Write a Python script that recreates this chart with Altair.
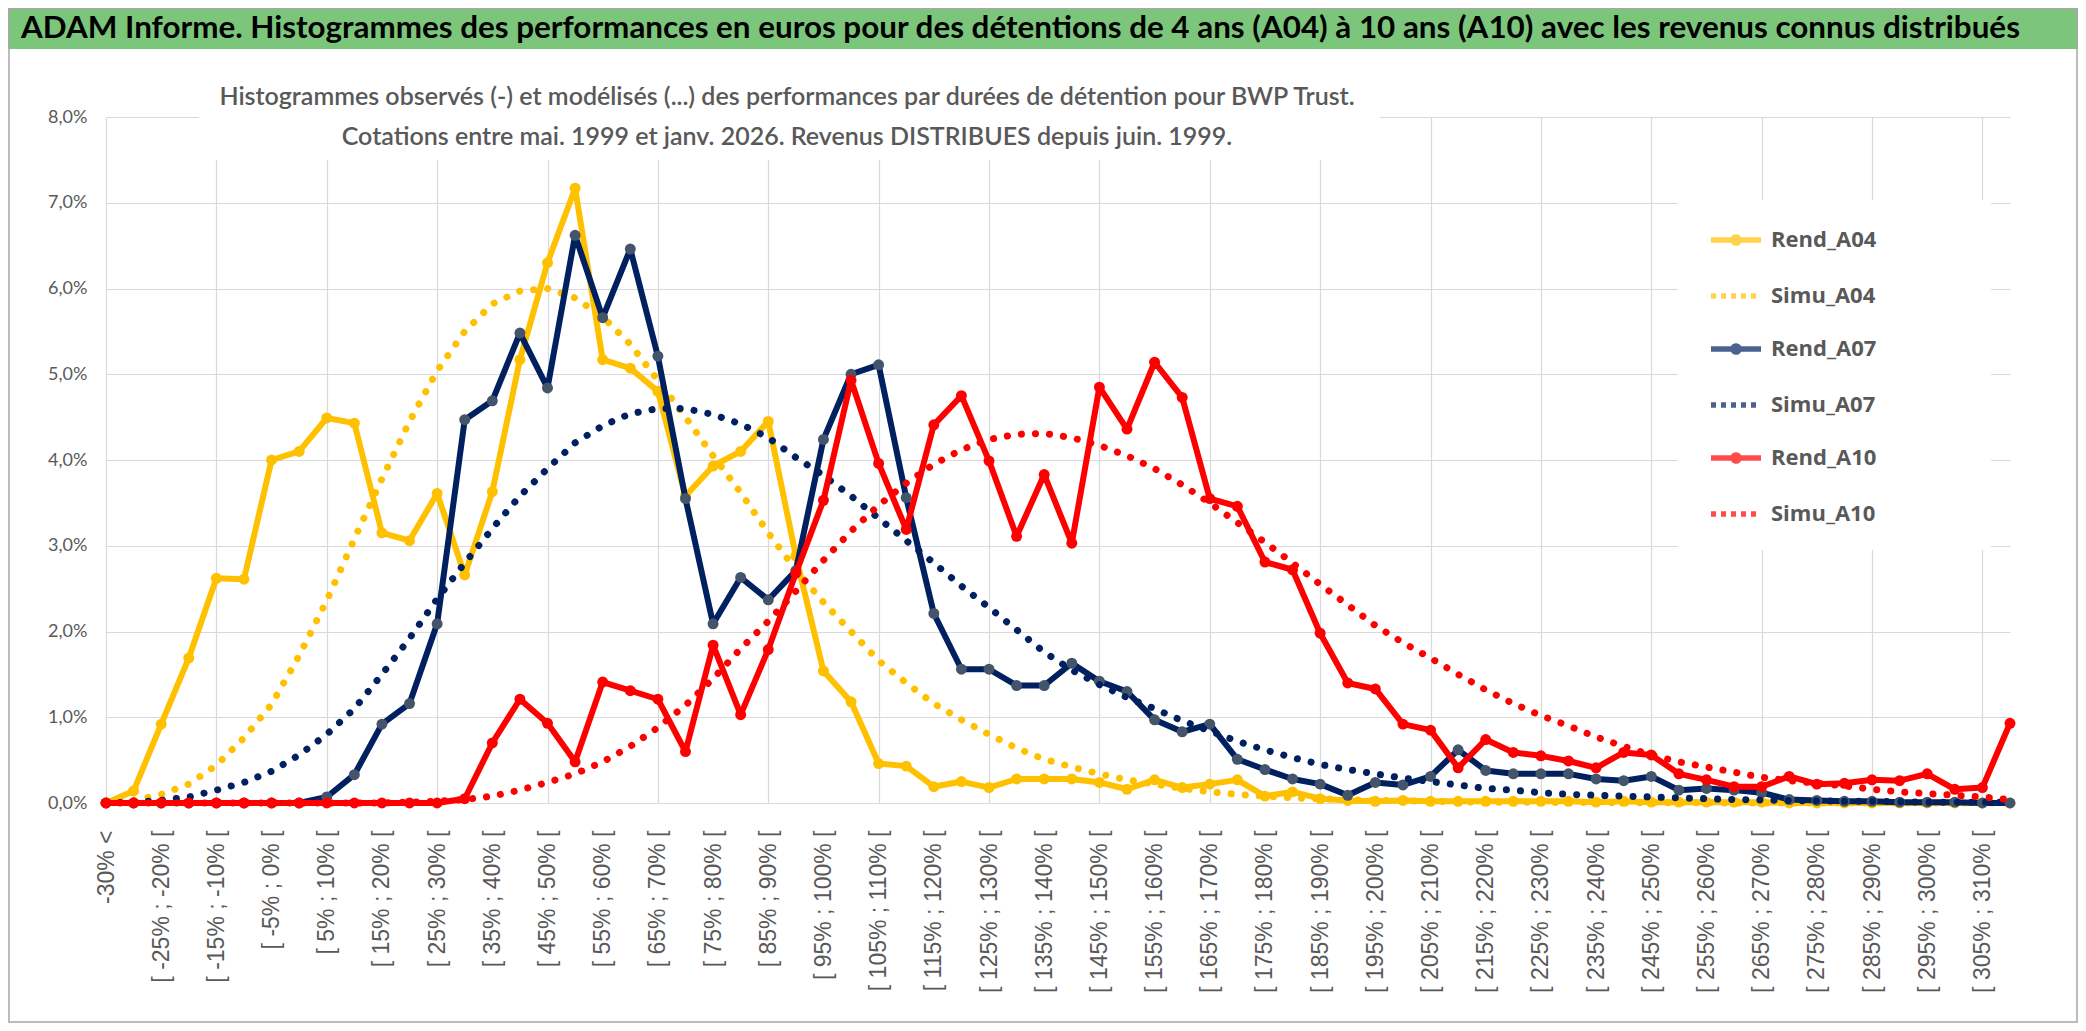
import json
import altair as alt
import pandas as pd

categories = [
    "-30% <",
    "[ -30% ; -25% [", "[ -25% ; -20% [", "[ -20% ; -15% [", "[ -15% ; -10% [",
    "[ -10% ; -5% [", "[ -5% ; 0% [", "[ 0% ; 5% [", "[ 5% ; 10% [",
    "[ 10% ; 15% [", "[ 15% ; 20% [", "[ 20% ; 25% [", "[ 25% ; 30% [",
    "[ 30% ; 35% [", "[ 35% ; 40% [", "[ 40% ; 45% [", "[ 45% ; 50% [",
    "[ 50% ; 55% [", "[ 55% ; 60% [", "[ 60% ; 65% [", "[ 65% ; 70% [",
    "[ 70% ; 75% [", "[ 75% ; 80% [", "[ 80% ; 85% [", "[ 85% ; 90% [",
    "[ 90% ; 95% [", "[ 95% ; 100% [", "[ 100% ; 105% [", "[ 105% ; 110% [",
    "[ 110% ; 115% [", "[ 115% ; 120% [", "[ 120% ; 125% [", "[ 125% ; 130% [",
    "[ 130% ; 135% [", "[ 135% ; 140% [", "[ 140% ; 145% [", "[ 145% ; 150% [",
    "[ 150% ; 155% [", "[ 155% ; 160% [", "[ 160% ; 165% [", "[ 165% ; 170% [",
    "[ 170% ; 175% [", "[ 175% ; 180% [", "[ 180% ; 185% [", "[ 185% ; 190% [",
    "[ 190% ; 195% [", "[ 195% ; 200% [", "[ 200% ; 205% [", "[ 205% ; 210% [",
    "[ 210% ; 215% [", "[ 215% ; 220% [", "[ 220% ; 225% [", "[ 225% ; 230% [",
    "[ 230% ; 235% [", "[ 235% ; 240% [", "[ 240% ; 245% [", "[ 245% ; 250% [",
    "[ 250% ; 255% [", "[ 255% ; 260% [", "[ 260% ; 265% [", "[ 265% ; 270% [",
    "[ 270% ; 275% [", "[ 275% ; 280% [", "[ 280% ; 285% [", "[ 285% ; 290% [",
    "[ 290% ; 295% [", "[ 295% ; 300% [", "[ 300% ; 305% [", "[ 305% ; 310% [",
    "[ 310% ; 315% [",
]

# values in percent
rend_a04 = [0.00, 0.14, 0.92, 1.69, 2.62, 2.61, 4.00, 4.10, 4.49, 4.43,
            3.15, 3.06, 3.61, 2.66, 3.63, 5.17, 6.30, 7.17, 5.17, 5.07,
            4.80, 3.58, 3.93, 4.10, 4.45, 2.88, 1.54, 1.18, 0.46, 0.43,
            0.19, 0.25, 0.18, 0.28, 0.28, 0.28, 0.24, 0.16, 0.27, 0.18,
            0.22, 0.27, 0.08, 0.13, 0.05, 0.03, 0.02, 0.03, 0.02, 0.02,
            0.02, 0.02, 0.02, 0.02, 0.01, 0.02, 0.01, 0.01, 0.01, 0.01,
            0.01, 0.00, 0.00, 0.00, 0.00, 0.00, 0.00, 0.00, 0.00, 0.00]

simu_a04 = [0.00, 0.03, 0.10, 0.22, 0.44, 0.76, 1.15, 1.72, 2.36, 3.08,
            3.78, 4.45, 5.04, 5.50, 5.82, 5.97, 6.00, 5.89, 5.67, 5.35,
            4.93, 4.50, 4.05, 3.62, 3.15, 2.72, 2.34, 2.00, 1.66, 1.40,
            1.16, 0.97, 0.80, 0.64, 0.51, 0.42, 0.34, 0.27, 0.22, 0.17,
            0.13, 0.10, 0.08, 0.06, 0.05, 0.04, 0.03, 0.025, 0.02, 0.015,
            0.01, 0.01, 0.008, 0.006, 0.005, 0.004, 0.003, 0.002, 0.002, 0.001,
            0.001, 0.00, 0.00, 0.00, 0.00, 0.00, 0.00, 0.00, 0.00, 0.00]

rend_a07 = [0.00, 0.00, 0.00, 0.00, 0.00, 0.00, 0.00, 0.00, 0.07, 0.33,
            0.92, 1.16, 2.09, 4.47, 4.69, 5.48, 4.84, 6.62, 5.66, 6.46,
            5.21, 3.55, 2.09, 2.63, 2.37, 2.71, 4.24, 5.00, 5.11, 3.56,
            2.21, 1.56, 1.56, 1.37, 1.37, 1.63, 1.42, 1.30, 0.97, 0.83,
            0.92, 0.51, 0.39, 0.28, 0.22, 0.09, 0.24, 0.21, 0.31, 0.62,
            0.38, 0.34, 0.34, 0.34, 0.28, 0.26, 0.31, 0.15, 0.17, 0.15,
            0.12, 0.04, 0.03, 0.02, 0.02, 0.01, 0.01, 0.01, 0.00, 0.00]

simu_a07 = [0.00, 0.01, 0.03, 0.07, 0.15, 0.24, 0.37, 0.56, 0.80, 1.10,
            1.50, 1.92, 2.38, 2.80, 3.20, 3.58, 3.90, 4.20, 4.40, 4.54,
            4.60, 4.60, 4.53, 4.42, 4.26, 4.03, 3.82, 3.58, 3.32, 3.06,
            2.80, 2.53, 2.28, 2.02, 1.76, 1.55, 1.38, 1.23, 1.10, 0.96,
            0.84, 0.72, 0.62, 0.53, 0.45, 0.39, 0.34, 0.29, 0.25, 0.21,
            0.17, 0.15, 0.12, 0.10, 0.09, 0.08, 0.07, 0.06, 0.05, 0.04,
            0.035, 0.03, 0.025, 0.02, 0.02, 0.015, 0.01, 0.01, 0.01, 0.01]

rend_a10 = [0.00, 0.00, 0.00, 0.00, 0.00, 0.00, 0.00, 0.00, 0.00, 0.00,
            0.00, 0.00, 0.00, 0.05, 0.70, 1.21, 0.93, 0.48, 1.41, 1.31,
            1.21, 0.60, 1.84, 1.03, 1.79, 2.68, 3.53, 4.93, 3.96, 3.19,
            4.41, 4.75, 3.99, 3.11, 3.83, 3.03, 4.85, 4.36, 5.14, 4.73,
            3.55, 3.46, 2.81, 2.72, 1.98, 1.40, 1.33, 0.92, 0.85, 0.41,
            0.74, 0.59, 0.55, 0.49, 0.41, 0.59, 0.56, 0.34, 0.27, 0.19,
            0.19, 0.31, 0.22, 0.23, 0.27, 0.26, 0.34, 0.16, 0.18, 0.93]

simu_a10 = [0.00, 0.00, 0.00, 0.00, 0.00, 0.00, 0.00, 0.00, 0.00, 0.00,
            0.00, 0.01, 0.02, 0.04, 0.08, 0.15, 0.24, 0.34, 0.48, 0.66,
            0.88, 1.14, 1.45, 1.80, 2.12, 2.47, 2.83, 3.17, 3.47, 3.73,
            3.95, 4.12, 4.24, 4.30, 4.31, 4.26, 4.17, 4.05, 3.90, 3.71,
            3.50, 3.27, 3.04, 2.80, 2.55, 2.31, 2.07, 1.87, 1.69, 1.50,
            1.32, 1.16, 1.02, 0.90, 0.77, 0.66, 0.56, 0.48, 0.42, 0.36,
            0.30, 0.26, 0.23, 0.20, 0.16, 0.13, 0.11, 0.09, 0.07, 0.04]

series_names = ["Rend_A04", "Simu_A04", "Rend_A07", "Simu_A07", "Rend_A10", "Simu_A10"]
series_values = [rend_a04, simu_a04, rend_a07, simu_a07, rend_a10, simu_a10]
line_colors = ["#FFC000", "#FFC000", "#002060", "#002060", "#FF0000", "#FF0000"]
marker_colors = {"Rend_A04": "#FFC000", "Rend_A07": "#44546A", "Rend_A10": "#FF0000"}
y_ticks = [0, 1, 2, 3, 4, 5, 6, 7, 8]

title_text = ("ADAM Informe. Histogrammes des performances en euros pour des détentions "
              "de 4 ans (A04) à 10 ans (A10) avec les revenus connus distribués")
subtitle_1 = ("Histogrammes observés (-) et modélisés (...) des performances "
              "par durées de détention pour BWP Trust.")
subtitle_2 = "Cotations entre mai. 1999 et janv. 2026. Revenus DISTRIBUES depuis juin. 1999."

rows = []
for name, vals in zip(series_names, series_values):
    for i, (c, v) in enumerate(zip(categories, vals)):
        rows.append({"cat": c, "idx": i, "val": v, "series": name})
df = pd.DataFrame(rows)

label_positions = list(range(0, len(categories), 2))
cat_array_expr = json.dumps(categories)

GRID = "#D9D9D9"
TXT = "#595959"

x_enc = alt.X(
    "idx:Q",
    scale=alt.Scale(domain=[0, len(categories) - 1], nice=False, zero=False),
    axis=alt.Axis(
        values=label_positions, labelAngle=-90, title=None, domain=False, ticks=False,
        labelExpr=cat_array_expr + "[datum.value]",
        labelPadding=27, labelFont="Liberation Sans", labelFontSize=23,
        labelColor=TXT, labelLimit=400, labelOverlap=False, labelFlush=False,
        labelAlign="right", labelBaseline="middle",
        grid=True, gridColor=GRID, gridWidth=1.2,
        gridOpacity={"condition": {"test": "datum.value % 4 === 0", "value": 1}, "value": 0},
    ),
)
y_enc = alt.Y(
    "val:Q",
    scale=alt.Scale(domain=[0, 8], nice=False),
    axis=alt.Axis(
        values=y_ticks, title=None, domain=False, ticks=False,
        labelExpr="replace(format(datum.value, '.1f'), '.', ',') + '%'",
        labelPadding=19, labelFont="Lato", labelFontSize=18, labelColor=TXT,
        grid=True, gridColor=GRID, gridWidth=1.2,
    ),
)

RPATH = "M-1,0H1M0.12,0A0.12,0.12,0,1,1,-0.12,0A0.12,0.12,0,1,1,0.12,0"
LPATH = "M-1,0H1"
legend = alt.Legend(
    title=None, orient="none", legendX=1587, legendY=80, padding=15,
    symbolSize=2500, symbolStrokeWidth=5.5, rowPadding=14, labelOffset=7,
    labelFont="Open Sans", labelFontSize=22, labelFontWeight="bold", labelColor=TXT,
    symbolLimit=0, symbolFillColor="transparent",
)
color_enc = alt.Color("series:N", scale=alt.Scale(domain=series_names, range=line_colors),
                      legend=legend)
shape_enc = alt.Shape("series:N", scale=alt.Scale(
    domain=series_names, range=[RPATH, LPATH, RPATH, LPATH, RPATH, LPATH]), legend=legend)
dash_enc = alt.StrokeDash("series:N", scale=alt.Scale(
    domain=series_names, range=[[1, 0], [5, 5], [1, 0], [5, 5], [1, 0], [5, 5]]), legend=legend)

base = alt.Chart(df)
deco = alt.Chart(pd.DataFrame({"k": [0]}))

layers = []
# decorations: title bar, subtitle box, legend box
layers.append(deco.mark_rect(color="#7CC67C").encode(
    x=alt.value(-98), x2=alt.value(1972), y=alt.value(-109), y2=alt.value(-68)))
layers.append(deco.mark_text(text=title_text, align="left", baseline="alphabetic",
                             font="Lato", fontSize=31.4, fontWeight="bold",
                             color="#000000").encode(x=alt.value(-85), y=alt.value(-79)))
layers.append(deco.mark_rect(color="white").encode(
    x=alt.value(93), x2=alt.value(1274), y=alt.value(-6), y2=alt.value(43)))
layers.append(deco.mark_rect(color="white").encode(
    x=alt.value(1572), x2=alt.value(1885), y=alt.value(83), y2=alt.value(433)))
layers.append(deco.mark_text(text=subtitle_1, align="center", baseline="middle",
                             font="Lato", fontSize=25, fontWeight=600, color=TXT)
              .encode(x=alt.value(681), y=alt.value(-20)))
layers.append(deco.mark_text(text=subtitle_2, align="center", baseline="middle",
                             font="Lato", fontSize=25, fontWeight=600, color=TXT)
              .encode(x=alt.value(681), y=alt.value(20)))

# legend carrier layer (no marks drawn, only defines legend symbols)
layers.append(base.transform_filter("false").mark_point(strokeWidth=5.5, filled=False).encode(
    x=x_enc, y=y_enc, color=color_enc, shape=shape_enc, strokeDash=dash_enc))

for name in series_names:
    rend = name.startswith("Rend")
    sub = base.transform_filter(alt.datum.series == name)
    if rend:
        line = sub.mark_line(strokeWidth=6, strokeCap="round", strokeJoin="round")
    else:
        line = sub.mark_line(strokeWidth=7, strokeCap="round", strokeDash=[0.1, 14])
    layers.append(line.encode(x=x_enc, y=y_enc, color=color_enc, order=alt.Order("idx:Q")))
    if rend:
        layers.append(sub.mark_circle(size=120, opacity=1, color=marker_colors[name])
                      .encode(x=x_enc, y=y_enc))

# outer border
layers.append(deco.mark_rect(fill=None, stroke="#A6A6A6", strokeWidth=1.5).encode(
    x=alt.value(-97), x2=alt.value(1971), y=alt.value(-108), y2=alt.value(905)))

chart = alt.layer(*layers).properties(
    width=1904, height=686,
    autosize=alt.AutoSizeParams(type="none"),
    padding={"left": 98, "top": 109, "right": 68, "bottom": 220},
    background="white",
).configure_view(stroke=None)

chart.save("out.html", embed_options={"renderer": "svg", "actions": False})
